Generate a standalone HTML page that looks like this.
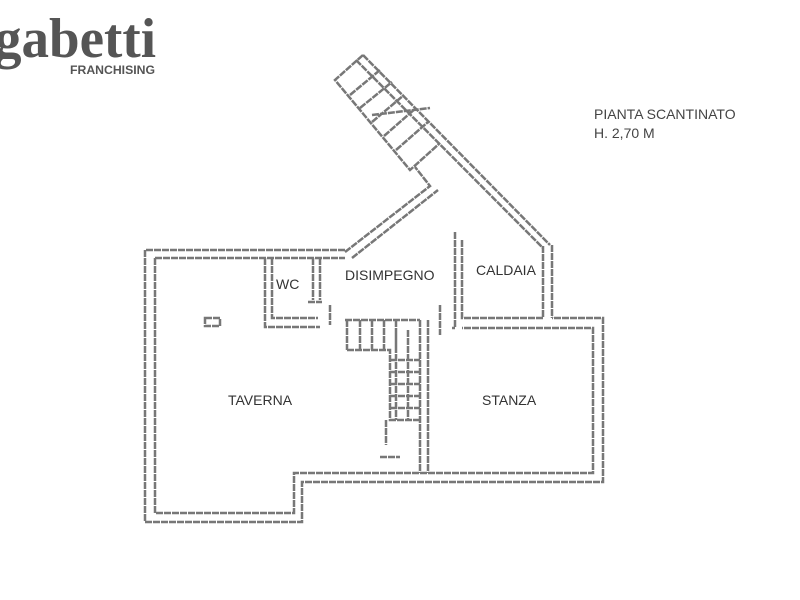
<!DOCTYPE html>
<html><head><meta charset="utf-8"><style>
body{margin:0;background:#fff;width:800px;height:600px;overflow:hidden}
svg{display:block}
</style></head><body>
<svg width="800" height="600" viewBox="0 0 800 600" xmlns="http://www.w3.org/2000/svg">
<text x="-6" y="57" font-family="Liberation Serif, serif" font-size="56" font-weight="bold" fill="#555" textLength="162" lengthAdjust="spacingAndGlyphs">gabetti</text>
<text x="70" y="74" font-family="Liberation Sans, sans-serif" font-size="12" font-weight="bold" fill="#555" textLength="85" lengthAdjust="spacingAndGlyphs">FRANCHISING</text>
<g font-family="Liberation Sans, sans-serif" font-size="14" fill="#444">
<text x="594" y="119">PIANTA SCANTINATO</text>
<text x="594" y="138">H.   2,70 M</text>
</g>
<g fill="none" stroke="#777" stroke-width="2.5" stroke-dasharray="7 1">
<path d="M345 250 H145 V522 H302 V482 H603 V318 H552"/>
<path d="M155 258 V513 H294 V473 H593 V328 H462"/>
<path d="M155 258 H345"/>
<path d="M455 232 V328 M462 240 V318 H543 V245 M552 245 V318"/>
<path d="M455 328 H452"/>
<path d="M265 258 V327 H320 M272 258 V318 H318 M320 258 V300 M313 258 V300"/>
<path d="M308 302 H322"/>
<path d="M420 320 V473 M428 320 V473"/>
<path d="M330 305 V325 M440 305 V335"/>
<path d="M345 320 H420 M347 350 H390 V420 H420 M347 320 V350"/>
<path d="M360 320 V350 M372 320 V350 M384 320 V350 M396 320 V350 M390 360 H420 M390 372 H420 M390 384 H420 M390 396 H420 M390 408 H420 M396 330 V420 M408 330 V420"/>
<path d="M386 420 V445 M380 457 H400"/>
<path d="M345 252 L430 186 L415 167"/>
<path d="M352 258 L438 190"/>
<path d="M363 55 L550 245"/>
<path d="M356 60 L543 248"/>
<path d="M363 55 L335 80 L410 170 L440 143"/>
<path d="M350 95 L380 70 M360 108 L392 82 M372 122 L404 95 M384 136 L416 108 M396 150 L428 122 M372 115 L430 108"/>
<path d="M205 318 H220 V326 H205 Z"/>
</g>
<g font-family="Liberation Sans, sans-serif" font-size="14" fill="#333">
<text x="276" y="289">WC</text>
<text x="345" y="280">DISIMPEGNO</text>
<text x="476" y="275">CALDAIA</text>
<text x="228" y="405">TAVERNA</text>
<text x="482" y="405">STANZA</text>
</g>
</svg>
</body></html>
